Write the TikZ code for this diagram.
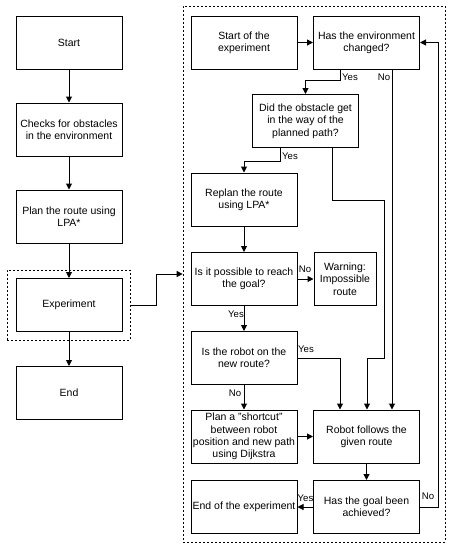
\documentclass[tikz,border=0pt]{standalone}
\usepackage{fontspec}
\setmainfont{Liberation Sans}
\usetikzlibrary{arrows.meta}

\begin{document}
\begin{tikzpicture}[x=1pt,y=-1pt,
    box/.style={draw, line width=1pt, minimum width=106pt, minimum height=53pt, align=center, inner sep=1pt, font=\fontsize{10.5}{12.3}\selectfont},
    frame/.style={draw, line width=0.7pt, dash pattern=on 2pt off 2pt, inner sep=0pt},
    link/.style={line width=1pt, -{Triangle[length=6pt,width=6pt]}},
    lbl/.style={font=\fontsize{9.6}{11}\selectfont, inner sep=0pt}]
  \useasboundingbox (0,0) rectangle (454,550);
  % frames
  \node[frame, minimum width=123pt, minimum height=70pt] (expframe) at (68.5,305) {};
  \node[frame, minimum width=262pt, minimum height=536pt] (mainframe) at (314,274) {};
  % main sequence
  \node[box] (start) at (69,42.5) {Start};
  \node[box] (checks) at (69,129.5) {Checks for obstacles\\in the environment};
  \node[box] (plan) at (69,216.5) {Plan the route using\\LPA*};
  \node[box] (experiment) at (69,305) {Experiment};
  \node[box] (end) at (69,393) {End};
  % experiment
  \node[box] (startexp) at (244,42.5) {Start of the\\experiment};
  \node[box] (changed) at (366.5,42.5) {Has the environment\\changed?};
  \node[box] (obstacle) at (305.5,121) {Did the obstacle get\\in the way of the\\planned path?};
  \node[box] (replan) at (244,199.5) {Replan the route\\using LPA*};
  \node[box] (possible) at (244,279) {Is it possible to reach\\the goal?};
  \node[box, minimum width=62pt] (warning) at (345,279) {Warning:\\Impossible\\route};
  \node[box] (onroute) at (244,358) {Is the robot on the\\new route?};
  \node[box] (shortcut) at (244,436.5) {Plan a "shortcut"\\between robot\\position and new path\\using Dijkstra};
  \node[box] (follows) at (366.5,436.5) {Robot follows the\\given route};
  \node[box] (goal) at (366.5,507) {Has the goal been\\achieved?};
  \node[box] (endexp) at (244,507) {End of the experiment};
  % connectors
  \draw[link] (start) -- (checks);
  \draw[link] (checks) -- (plan);
  \draw[link] (plan) -- (experiment);
  \draw[link] (experiment) -- (end);
  \draw[link] (expframe.east) -- ++(26,0) |- (mainframe.west);
  \draw[link] (startexp) -- (changed);
  \draw[link] (changed.south -| 340,0) -- ++(0,11) -| (obstacle.north);
  \draw[link] (changed.south -| 392,0) -- (follows.north -| 392,0);
  \draw[link] (obstacle.south -| 280,0) -- ++(0,13) -| (replan.north);
  \draw[link] (obstacle.south -| 332,0) |- (384,200) |- (367,358) -- (follows.north -| 367,0);
  \draw[link] (replan) -- (possible);
  \draw[link] (possible) -- (warning);
  \draw[link] (possible) -- (onroute);
  \draw[link] (onroute.east) -| (follows.north -| 340,0);
  \draw[link] (onroute) -- (shortcut);
  \draw[link] (shortcut) -- (follows);
  \draw[link] (follows) -- (goal);
  \draw[link] (goal) -- (endexp);
  \draw[link] (goal.east) -- ++(18,0) |- (changed.east);
  % labels
  \node[lbl] (yes1) at (350,77) {Yes};
  \node[lbl] (no1) at (384,77) {No};
  \node[lbl] (yes2) at (290,156) {Yes};
  \node[lbl] (no2) at (305,269) {No};
  \node[lbl] (yes3) at (236,314) {Yes};
  \node[lbl] (yes4) at (306,349) {Yes};
  \node[lbl] (no3) at (235,393) {No};
  \node[lbl] (yes5) at (305.5,498) {Yes};
  \node[lbl] (no4) at (428,496) {No};
\end{tikzpicture}
\end{document}
